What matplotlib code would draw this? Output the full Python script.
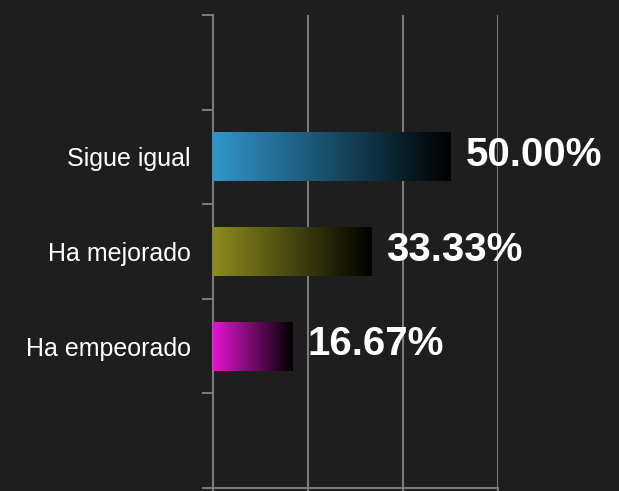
import numpy as np
import matplotlib.pyplot as plt
from matplotlib.colors import LinearSegmentedColormap

# datos
categorias = ["Sigue igual", "Ha mejorado", "Ha empeorado"]
porcentajes = [50.00, 33.33, 16.67]
colores = ["#3196cc", "#8c8c1e", "#e614d2"]
posiciones = [1, 2, 3]  # ranuras 0 y 4 quedan vacias

fondo = "#1e1e1e"
gris = "#7a7a7a"

plt.rcParams['font.family'] = ['Liberation Sans', 'DejaVu Sans']

fig = plt.figure(figsize=(6.19, 4.91), dpi=100, facecolor=fondo)
ax = fig.add_axes([213 / 619, 3 / 491, 285 / 619, 473 / 491])
ax.set_facecolor(fondo)

barras = ax.barh(posiciones, porcentajes, height=0.52, color="none", zorder=3)

# degradado de color a negro dentro de cada barra
grad = np.linspace(0, 1, 256).reshape(1, -1)
for barra, c in zip(barras, colores):
    cmap = LinearSegmentedColormap.from_list("g", [c, "#000000"])
    x0, y0 = barra.get_x(), barra.get_y()
    w, h = barra.get_width(), barra.get_height()
    im = ax.imshow(grad, cmap=cmap, aspect="auto", extent=[x0, x0 + w, y0, y0 + h],
                   zorder=3, interpolation="bicubic")
    im.set_clip_path(barra)

for p, v in zip(posiciones, porcentajes):
    ax.text(v + 3.2, p - 0.02, f"{v:.2f}%", color="white", fontsize=29, fontweight="bold",
            va="center", ha="left", zorder=4, clip_on=False)

ax.set_xlim(0, 60)
ax.set_ylim(4.5, -0.5)
ax.set_xticks([0, 20, 40, 60])
ax.set_xticklabels([])
ax.set_yticks(np.arange(-0.5, 5, 1))
ax.set_yticklabels([])
ax.set_yticks(posiciones, minor=True)
ax.set_yticklabels(categorias, minor=True, color="white", fontsize=18)
ax.tick_params(axis="y", which="minor", length=0, pad=16)
ax.tick_params(axis="both", which="major", length=8, width=1.5, color=gris)

ax.grid(axis="x", color=gris, linewidth=1.5)
for s in ["top", "right"]:
    ax.spines[s].set_visible(False)
for s in ["left", "bottom"]:
    ax.spines[s].set_color(gris)
    ax.spines[s].set_linewidth(1.5)

fig.savefig("out.png", dpi=100, facecolor=fondo)
